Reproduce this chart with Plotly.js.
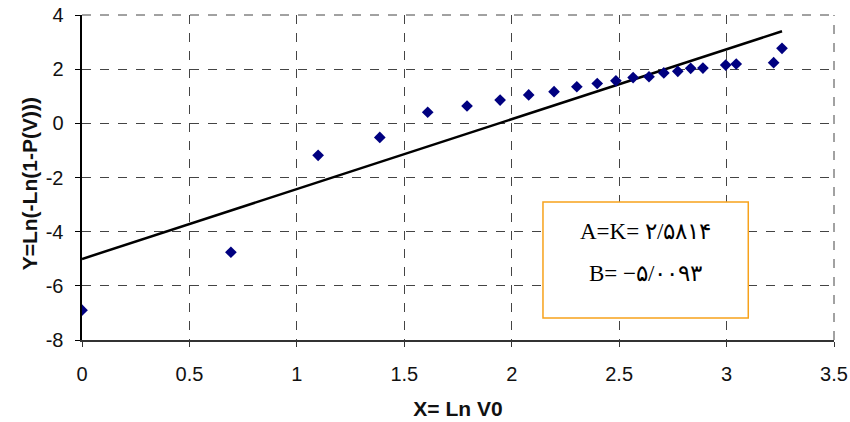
<!DOCTYPE html>
<html>
<head>
<meta charset="utf-8">
<script src="https://cdn.plot.ly/plotly-3.0.1.min.js"></script>
<style>html,body{margin:0;padding:0;background:#fff;}#chart{width:850px;height:422px;}</style>
</head>
<body>
<div id="chart"></div>
<script>
// Observed points: X = Ln V0, Y = Ln(-Ln(1-P(V)))
const xData = [0, 0.693, 1.099, 1.386, 1.609, 1.792, 1.946, 2.079, 2.197, 2.303, 2.398, 2.485, 2.565, 2.639, 2.708, 2.773, 2.833, 2.890, 2.996, 3.045, 3.219, 3.258];
const yData = [-6.90, -4.76, -1.18, -0.52, 0.41, 0.64, 0.86, 1.05, 1.17, 1.35, 1.47, 1.57, 1.69, 1.72, 1.86, 1.92, 2.03, 2.04, 2.15, 2.19, 2.24, 2.77];
// Fitted line end points
const lineX = [0, 3.258];
const lineY = [-5.009, 3.401];
// Axis ticks
const xTicks = [0, 0.5, 1, 1.5, 2, 2.5, 3, 3.5];
const yTicks = [-8, -6, -4, -2, 0, 2, 4];
// Texts
const xTitle = 'X= Ln V0';
const yTitle = 'Y=Ln(-Ln(1-P(V)))';
const labelA = "A=K= \u06F2/\u06F5\u06F8\u06F1\u06F4";
const labelB = "B= \u2212\u06F5/\u06F0\u06F0\u06F9\u06F3";

const traces = [
  {x: lineX, y: lineY, mode: 'lines', type: 'scatter',
   line: {color: '#000000', width: 2.5}, hoverinfo: 'skip'},
  {x: xData, y: yData, mode: 'markers', type: 'scatter',
   marker: {symbol: 'diamond', color: '#000080', size: 9}}
];

const axisFont = {family: 'Liberation Sans, Arial, sans-serif', size: 20, color: '#111'};
const titleFont = {family: 'Liberation Sans, Arial, sans-serif', size: 21, color: '#111', weight: 'bold'};
const boxFont = {family: 'Liberation Serif, Times New Roman, serif', size: 23, color: '#000'};
const layout = {
  width: 850, height: 422,
  margin: {l: 82, r: 16, t: 15, b: 82},
  showlegend: false,
  paper_bgcolor: '#ffffff', plot_bgcolor: '#ffffff',
  xaxis: {
    range: [0, 3.5], tickvals: xTicks, ticktext: xTicks.map(String),
    showgrid: true, gridcolor: '#444', griddash: 'dash', gridwidth: 1,
    zeroline: false, showline: true, linecolor: '#333', linewidth: 1.5,
    ticks: 'outside', ticklen: 5, tickcolor: '#333', tickfont: axisFont,
    ticklabelstandoff: 10,
    title: {text: xTitle, font: titleFont, standoff: 18}
  },
  yaxis: {
    range: [-8, 4], tickvals: yTicks, ticktext: yTicks.map(String),
    showgrid: true, gridcolor: '#444', griddash: 'dash', gridwidth: 1,
    zeroline: false, showline: true, linecolor: '#000', linewidth: 2.5,
    ticks: 'outside', ticklen: 5, tickcolor: '#000', tickfont: axisFont,
    ticklabelstandoff: 7
  },
  shapes: [
    {type: 'line', xref: 'paper', yref: 'paper', x0: 0, x1: 1, y0: 1, y1: 1,
     line: {color: '#444', width: 1, dash: 'dash'}},
    {type: 'line', xref: 'paper', yref: 'paper', x0: 1, x1: 1, y0: 0, y1: 1,
     line: {color: '#444', width: 1, dash: 'dash'}},
    {type: 'rect', xref: 'paper', yref: 'paper', x0: 0.613, x1: 0.886, y0: 0.068, y1: 0.425,
     fillcolor: '#ffffff', line: {color: '#F7A21B', width: 1.5}, layer: 'above'}
  ],
  annotations: [
    {xref: 'paper', yref: 'paper', x: -0.088, y: 0.48, textangle: -90, text: yTitle, showarrow: false, font: titleFont},
    {xref: 'paper', yref: 'paper', x: 0.660, y: 0.335, xanchor: 'left', text: labelA, showarrow: false, font: boxFont},
    {xref: 'paper', yref: 'paper', x: 0.671, y: 0.160, xanchor: 'left', text: labelB, showarrow: false, font: boxFont}
  ]
};

Plotly.newPlot('chart', traces, layout, {displayModeBar: false, staticPlot: true});
</script>
</body>
</html>
